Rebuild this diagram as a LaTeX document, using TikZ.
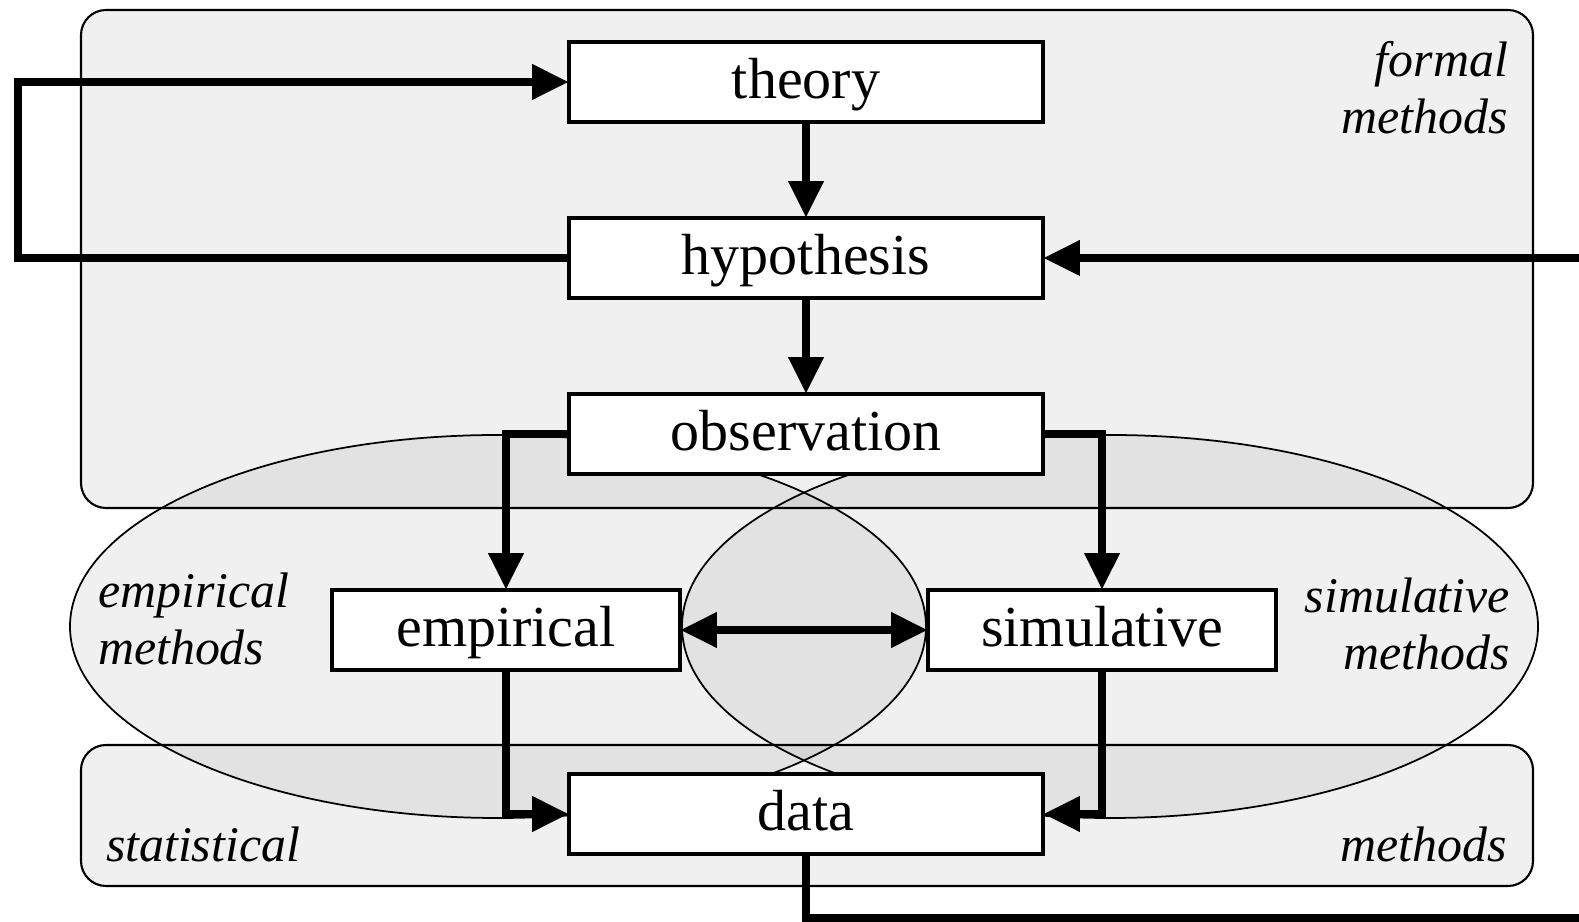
\documentclass[tikz,border=0pt]{standalone}
\usepackage{fontspec}
\setmainfont{Liberation Serif}
\usetikzlibrary{positioning,arrows.meta,calc}

\begin{document}
\begin{tikzpicture}[every node/.style={inner sep=0,outer sep=0},
    >={Triangle[length=10.5pt,width=9.5pt]},
    stage/.style={draw,fill=white,line width=0.9pt,minimum width=4.74cm,minimum height=0.8cm,
        text height=0.42cm,text depth=0.08cm,font=\fontsize{16.5}{18}\selectfont},
    sidestage/.style={stage,minimum width=3.48cm},
    area/.style={draw,line width=0.6pt,fill=black,fill opacity=0.058},
    zone/.style={area,line width=0.5pt},
    flow/.style={line width=2.5pt,->},
    tag/.style={font=\fontsize{14.2}{16.2}\selectfont\itshape},
    node distance=0.96cm]

    \useasboundingbox (0,0) rectangle (15.79,-9.22);

    % shaded method regions
    \draw[area,rounded corners=0.25cm] (0.81,-0.10) rectangle (15.33,-5.08);
    \draw[area,rounded corners=0.25cm] (0.81,-7.45) rectangle (15.33,-8.86);
    \draw[zone] (4.98,-6.265) ellipse (4.28 and 1.915);
    \draw[zone] (11.10,-6.265) ellipse (4.28 and 1.915);

    \node[tag,align=right,anchor=north east] (formal) at (15.08,-0.41) {formal\\methods};
    \node[tag,align=left,anchor=north west] (emplab) at (0.98,-5.73) {empirical\\methods};
    \node[tag,align=right,anchor=north east] (simlab) at (15.10,-5.78) {simulative\\methods};
    \node[tag,anchor=base west] (statl) at (1.06,-8.62) {statistical};
    \node[tag,anchor=base east] (statr) at (15.07,-8.62) {methods};

    % the steps
    \node[stage] (theory) at (8.06,-0.82) {theory};
    \node[stage] (hyp) [below=of theory] {hypothesis};
    \node[stage] (obs) [below=of hyp] {observation};
    \node[sidestage] (emp) at (5.06,-6.30) {empirical};
    \node[sidestage] (sim) at (11.02,-6.30) {simulative};
    \node[stage] (data) at (8.06,-8.14) {data};

    \coordinate (backL) at (0.18,0);
    \coordinate (inR) at (15.79,0);
    \coordinate (outB) at (15.79,-9.18);

    \draw[flow] (theory) -- (hyp);
    \draw[flow] (hyp) -- (obs);
    \draw[flow] (hyp.west) -- (hyp.west -| backL) |- (theory.west);
    \draw[flow] (hyp.east -| inR) -- (hyp.east);
    \draw[flow] (obs.west) -| (emp.north);
    \draw[flow] (obs.east) -| (sim.north);
    \draw[flow,<->] (emp) -- (sim);
    \draw[flow] (emp.south) |- (data.west);
    \draw[flow] (sim.south) |- (data.east);
    \draw[line width=2.5pt] (data.south) |- (outB);

\end{tikzpicture}
\end{document}
